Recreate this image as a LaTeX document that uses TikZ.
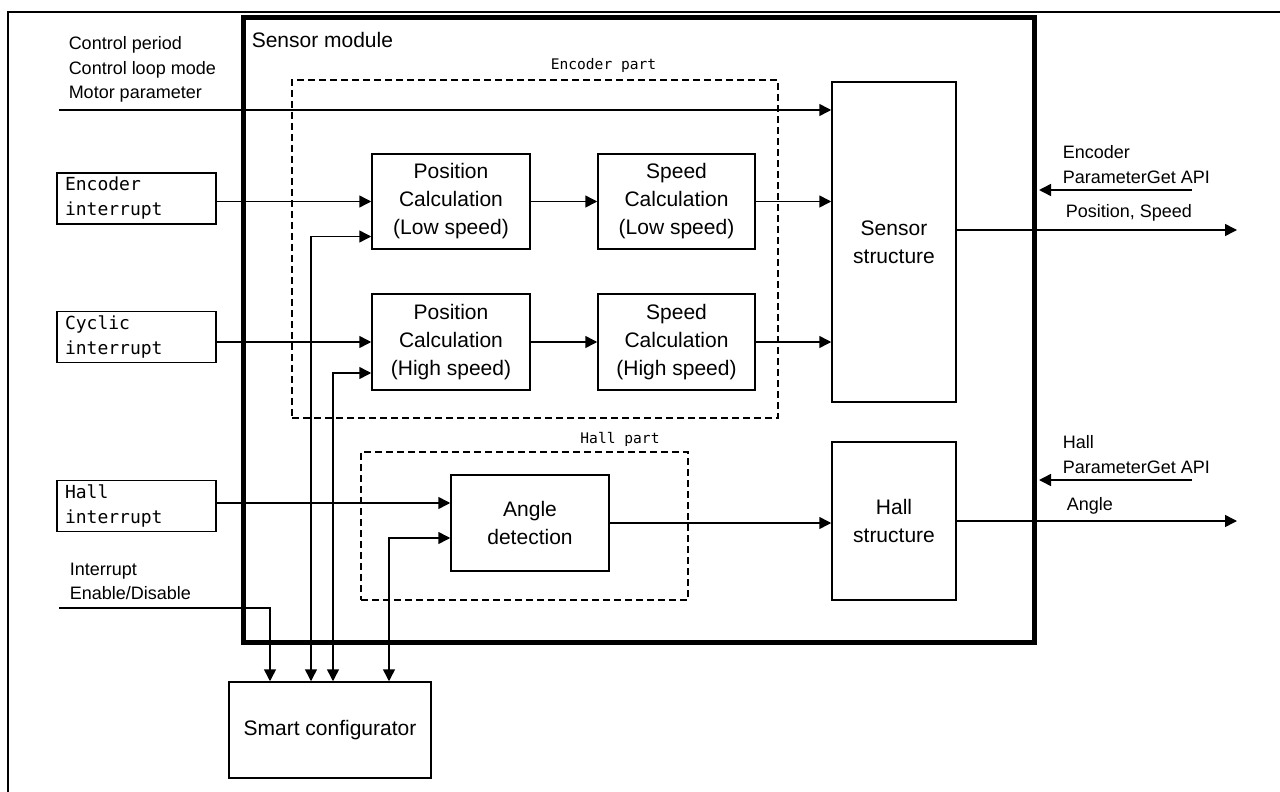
\documentclass[tikz,border=0pt]{standalone}
\usepackage{fontspec}
\setmainfont{Liberation Sans}
\setsansfont{Liberation Sans}
\setmonofont{DejaVu Sans Mono}
\usetikzlibrary{arrows.meta, positioning, calc}
\newcommand{\boxfont}{\fontsize{10.5}{14}\selectfont}
\newcommand{\notefont}{\fontsize{9}{12.2}\selectfont}
\newcommand{\irqfont}{\ttfamily\fontsize{9}{12.5}\selectfont}
\tikzset{
  every picture/.style={line width=0.75pt},
  calcbox/.style={draw, align=center, inner sep=0pt, minimum width=79pt, minimum height=48pt, font=\boxfont},
  tallbox/.style={draw, align=center, inner sep=0pt, minimum width=62pt, font=\boxfont},
  irqbox/.style={draw, align=left, font=\irqfont, inner xsep=4pt, inner ysep=0pt, text width=71.5pt, minimum height=25.5pt},
  part/.style={draw, dash pattern=on 3.5pt off 2pt, inner sep=0pt},
  partlabel/.style={font=\ttfamily\fontsize{7.3}{9}\selectfont, inner sep=0pt},
  note/.style={align=left, inner sep=0pt, font=\notefont},
  arrow/.style={-{Triangle[length=6pt,width=6pt]}},
  twoway/.style={{Triangle[length=6pt,width=6pt]}-{Triangle[length=6pt,width=6pt]}},
}

\begin{document}
\begin{tikzpicture}[x=0.5pt, y=-0.5pt]
  \useasboundingbox (0,0) rectangle (1280,792);
  % page frame (only top and left edges are visible)
  \draw[line width=1.2pt] (8,792) -- (8,12) -- (1280,12);

  % sensor module and its parts
  \node[draw, line width=2.5pt, inner sep=0pt, minimum width=395.5pt, minimum height=312pt] (module) at (638.5,330) {};
  \node[anchor=north west, inner sep=0pt, font=\boxfont] (modtitle) at (251,32) {Sensor module};
  \node[part, minimum width=243pt, minimum height=169pt] (encpart) at (535,249) {};
  \node[partlabel, anchor=base] (enclabel) at (603.5,70) {Encoder part};
  \node[part, minimum width=163.5pt, minimum height=74pt] (hallpart) at (524.5,526) {};
  \node[partlabel, anchor=base] (halllabel) at (620,443) {Hall part};

  % calculation blocks
  \node[calcbox, minimum height=47.5pt] (poslow) at (451,201.5) {Position\\Calculation\\(Low speed)};
  \node[calcbox, minimum width=78.5pt, minimum height=47.5pt] (spdlow) at (676.5,201.5) {Speed\\Calculation\\(Low speed)};
  \node[calcbox] (poshigh) at (451,342) {Position\\Calculation\\(High speed)};
  \node[calcbox, minimum width=78.5pt] (spdhigh) at (676.5,342) {Speed\\Calculation\\(High speed)};
  \node[calcbox] (angle) at (530,523) {Angle\\detection};
  \node[tallbox, minimum height=160pt] (sens) at (894,242) {Sensor\\structure};
  \node[tallbox, minimum height=79pt] (hallst) at (894,521) {Hall\\structure};
  \node[calcbox, minimum width=101pt] (smart) at (330,730) {Smart configurator};

  % interrupt sources
  \node[irqbox] (encint) at (136.5,198.5) {Encoder\\interrupt};
  \node[irqbox] (cycint) at (136.5,337) {Cyclic\\interrupt};
  \node[irqbox] (hallint) at (136.5,506) {Hall\\interrupt};

  % notes
  \node[note, anchor=north west] (ctrlnote) at (68,36) {Control period\\Control loop mode\\Motor parameter};
  \node[note, anchor=north west] (irqnote) at (69,562) {Interrupt\\Enable/Disable};
  \node[note, anchor=north west] (encapinote) at (1062,145) {Encoder\\ParameterGet API};
  \node[note, anchor=north west] (hallapinote) at (1062,435) {Hall\\ParameterGet API};
  \node[note, anchor=base west] (posnote) at (1065,217) {Position, Speed};
  \node[note, anchor=base west] (anglenote) at (1066,510) {Angle};

  % free ends
  \coordinate (ctrl) at (59,110);
  \coordinate (irq) at (59,608);
  \coordinate (posout) at (1237,230);
  \coordinate (angout) at (1237,521);
  \coordinate (encapi) at (1192,190);
  \coordinate (hallapi) at (1192,480);

  % inputs
  \draw[arrow] (ctrl) -- (ctrl -| sens.west);
  \draw[arrow] (poslow.west -| encint.east) -- (poslow.west);
  \draw[arrow] (poshigh.west -| cycint.east) -- (poshigh.west);
  \draw[arrow] ([yshift=10pt]angle.west -| hallint.east) -- ([yshift=10pt]angle.west);
  \draw[twoway] ([yshift=-17.5pt]poslow.west) -| ([xshift=-9.5pt]smart.north);
  \draw[twoway] ([yshift=-15.5pt]poshigh.west) -| ([xshift=1.5pt]smart.north);
  \draw[twoway] ([yshift=-7.5pt]angle.west) -| ([xshift=29.5pt]smart.north);
  \draw[arrow] (irq) -| ([xshift=-30pt]smart.north);

  % inner flow
  \draw[arrow] (poslow.east) -- (spdlow.west);
  \draw[arrow] (poshigh.east) -- (spdhigh.west);
  \draw[arrow] (spdlow.east) -- (spdlow.east -| sens.west);
  \draw[arrow] (spdhigh.east) -- (spdhigh.east -| sens.west);
  \draw[arrow] (angle.east) -- (angle.east -| hallst.west);

  % outputs and API calls
  \draw[arrow] (sens.east |- posout) -- (posout);
  \draw[arrow] (hallst.east) -- (angout);
  \draw[arrow] (encapi) -- ([xshift=1.25pt]module.east |- encapi);
  \draw[arrow] (hallapi) -- ([xshift=1.25pt]module.east |- hallapi);
\end{tikzpicture}
\end{document}
